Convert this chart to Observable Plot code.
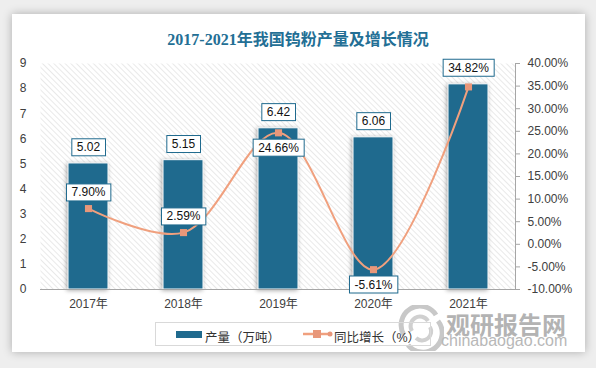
<!DOCTYPE html>
<html><head><meta charset="utf-8">
<script src="https://cdn.jsdelivr.net/npm/d3@7"></script>
<script src="https://cdn.jsdelivr.net/npm/@observablehq/plot@0.6"></script>
<style>
body{margin:0;width:596px;height:368px;background:#eeeeee;position:relative;overflow:hidden;font-family:"Liberation Sans","Noto Sans CJK SC",sans-serif;}
#card{position:absolute;left:12px;top:14px;width:573px;height:338px;background:#fff;box-shadow:0 0 9px rgba(0,0,0,0.28);}
#title{position:absolute;left:0;top:26px;width:596px;text-align:center;font:bold 16px "Liberation Serif","Noto Sans CJK SC",serif;color:#236f95;}
#chart{position:absolute;left:0;top:50px;}
#legend{position:absolute;left:155px;top:322px;width:276px;height:24px;border:1px solid #d9d9d9;box-sizing:border-box;font:12.5px "Liberation Sans","Noto Sans CJK SC",sans-serif;color:#333;}
#legend .it{position:absolute;top:4px;white-space:nowrap;}
#wm1{position:absolute;left:446px;top:306px;font:bold 24px "Noto Sans CJK SC",sans-serif;color:#b3b3b3;letter-spacing:0px;}
#wm2{position:absolute;left:441px;top:332px;font:16px "Liberation Sans",sans-serif;color:#b8b8b8;}
#logo{position:absolute;left:398px;top:305px;}
</style></head>
<body>
<div id="card"></div>
<div id="title">2017-2021年我国钨粉产量及增长情况</div>
<div id="chart"></div>
<svg id="logo" width="46" height="46" viewBox="0 0 46 46">
  <path d="M6 30 A18 18 0 0 1 38 10" fill="none" stroke="#c8c8c8" stroke-width="5"/>
  <path d="M40 16 A18 18 0 0 1 10 40" fill="none" stroke="#c8c8c8" stroke-width="5"/>
  <path d="M14 26 A9 9 0 0 1 30 16" fill="none" stroke="#d0d0d0" stroke-width="4"/>
  <path d="M32 22 A9 9 0 0 1 18 33" fill="none" stroke="#d0d0d0" stroke-width="4"/>
</svg>
<div id="wm1">观研报告网</div>
<div id="wm2">chinabaogao.com</div>
<div id="legend">
  <svg style="position:absolute;left:20px;top:8px" width="26" height="7"><rect width="26" height="7" fill="#1f6a8e"/></svg>
  <div class="it" style="left:49px">产量（万吨）</div>
  <svg style="position:absolute;left:147px;top:5px" width="30" height="12"><line x1="0" y1="6" x2="29" y2="6" stroke="#f0a07e" stroke-width="2.5"/><rect x="10" y="2" width="8" height="8" fill="#e8977a"/><circle cx="27" cy="6" r="2.5" fill="#e8977a"/></svg>
  <div class="it" style="left:178px">同比增长（%）</div>
</div>
<script>
const years = ["2017年","2018年","2019年","2020年","2021年"];
const output = [5.02, 5.15, 6.42, 6.06, 8.17];
const growth = [7.90, 2.59, 24.66, -5.61, 34.82];
const leftTicks = [0,1,2,3,4,5,6,7,8,9];
const rightTicks = [-10,-5,0,5,10,15,20,25,30,35,40];
const growthBelow = ["2019年","2020年"];
const growthHigh = ["2021年"];
const hiddenBarLabels = ["2021年"]; // covered by the growth label in the reference

const data = years.map((y,i)=>({year:y, output:output[i], growth:growth[i]}));
const gMin = -10, gMax = 40, yMax = 9;
const toLeft = g => (g - gMin) * yMax / (gMax - gMin);
const fromLeft = v => v * (gMax - gMin) / yMax + gMin;

const BAR = "#1f6a8e", LINE = "#f0a07e", MARK = "#e8977a";
const gText = d => d.growth.toFixed(2) + "%";
const gY = d => toLeft(d.growth);

const chart = Plot.plot({
  width: 596, height: 270,
  marginTop: 13, marginBottom: 31, marginLeft: 40, marginRight: 81,
  style: {fontFamily: "Liberation Sans, Noto Sans CJK SC, sans-serif", fontSize: "12px", color: "#404040", background: "transparent"},
  x: {domain: years, paddingInner: 0.58, paddingOuter: 0.29},
  y: {domain: [0, yMax]},
  marks: [
    Plot.frame({fill: "url(#hatch)", stroke: null}),
    Plot.barY(data, {x: "year", y: "output", fill: BAR, stroke: "white", strokeWidth: 1, className: "bars"}),
    Plot.ruleY([0], {stroke: "#a6a6a6", strokeWidth: 1}),
    Plot.axisX({tickSize: 0, tickPadding: 10, label: null, fontSize: 12}),
    Plot.axisY(leftTicks, {anchor: "left", tickSize: 0, tickPadding: 14, label: null, fontSize: 12}),
    Plot.axisY(rightTicks.map(toLeft), {anchor: "right", tickSize: 4, tickPadding: 8, label: null, fontSize: 12, stroke: "#a6a6a6",
      tickFormat: d => fromLeft(d).toFixed(2) + "%"}),
    Plot.frame({anchor: "right", stroke: "#a6a6a6"}),
    Plot.text(data.filter(d => !hiddenBarLabels.includes(d.year)), {x: "year", y: "output", text: d => d.output.toFixed(2), dy: -16, fill: "#111", fontSize: 12, className: "boxlbl"}),
    Plot.line(data, {x: "year", y: gY, stroke: LINE, strokeWidth: 2, curve: "catmull-rom"}),
    Plot.dot(data, {x: "year", y: gY, symbol: "square", r: 4, fill: MARK}),
    Plot.text(data.filter(d => !growthBelow.includes(d.year) && !growthHigh.includes(d.year)), {x: "year", y: gY, text: gText, dy: -16, fill: "#111", fontSize: 12, className: "boxlbl"}),
    Plot.text(data.filter(d => growthHigh.includes(d.year)), {x: "year", y: gY, text: gText, dy: -19, fill: "#111", fontSize: 12, className: "boxlbl"}),
    Plot.text(data.filter(d => growthBelow.includes(d.year)), {x: "year", y: gY, text: gText, dy: 15, fill: "#111", fontSize: 12, className: "boxlbl"})
  ]
});
document.getElementById("chart").appendChild(chart);

// hatch pattern
const ns = "http://www.w3.org/2000/svg";
const defs = document.createElementNS(ns, "defs");
defs.innerHTML = '<pattern id="hatch" width="4" height="4" patternUnits="userSpaceOnUse" patternTransform="rotate(-45)"><rect width="4" height="4" fill="#ffffff"/><line x1="0" y1="0" x2="0" y2="4" stroke="#d4d4d4" stroke-width="1"/></pattern>';
chart.insertBefore(defs, chart.firstChild);

// bar shadow
chart.querySelectorAll("g.bars").forEach(g => g.style.filter = "drop-shadow(-1px 1px 2px rgba(0,0,0,0.35))");

// label boxes
chart.querySelectorAll("g.boxlbl").forEach(g => {
  g.querySelectorAll("text").forEach(t => {
    const b = t.getBBox();
    const r = document.createElementNS(ns, "rect");
    r.setAttribute("x", b.x - 5);
    r.setAttribute("y", b.y - 1.5);
    r.setAttribute("width", b.width + 10);
    r.setAttribute("height", b.height + 3);
    r.setAttribute("fill", "white");
    r.setAttribute("stroke", BAR);
    r.setAttribute("stroke-width", 1);
    if (t.getAttribute("transform")) r.setAttribute("transform", t.getAttribute("transform"));
    g.insertBefore(r, t);
  });
});
</script>
</body></html>
